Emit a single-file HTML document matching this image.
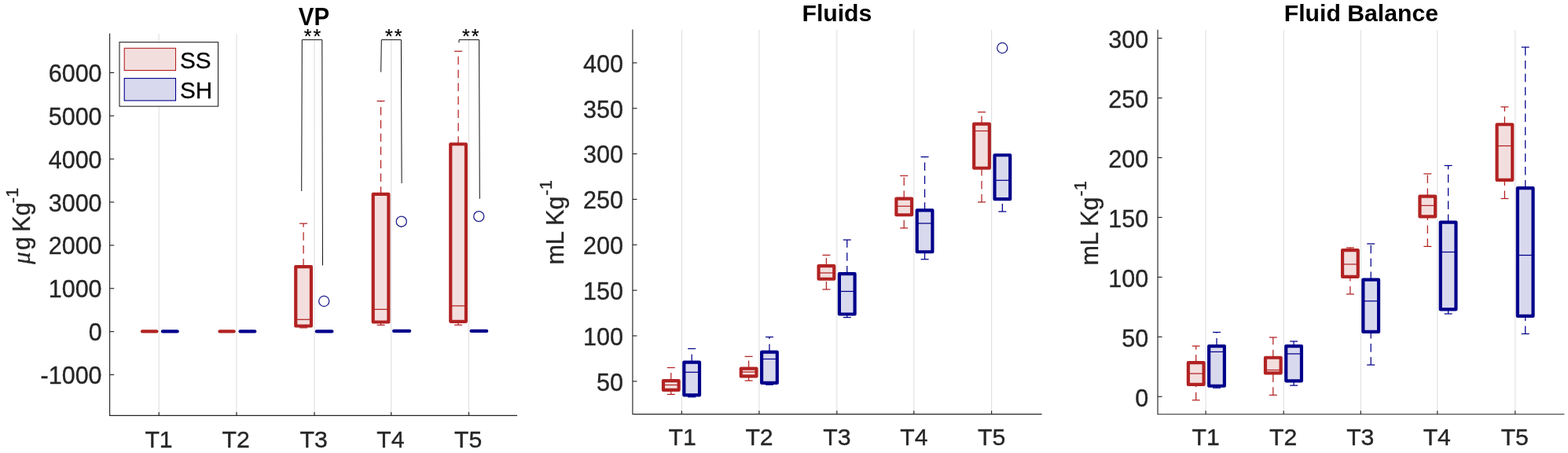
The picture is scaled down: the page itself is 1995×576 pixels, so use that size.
<!DOCTYPE html>
<html lang="en"><head><meta charset="utf-8"><title>VP, Fluids, Fluid Balance</title>
<style>html,body{margin:0;padding:0;background:#fff;}body{width:1995px;height:576px;overflow:hidden;}svg{display:block;font-family:"Liberation Sans",Arial,Helvetica,sans-serif;}</style>
</head><body>
<svg width="1995" height="576" viewBox="0 0 1995 576" role="img" aria-label="Box plots of VP, Fluids and Fluid Balance for groups SS and SH at T1 to T5">
<rect width="1995" height="576" fill="#fff"/>
<g id="panel-vp">
<line x1="202.20" y1="43" x2="202.20" y2="528.3" stroke="#dfdfdf" stroke-width="1.1"/>
<line x1="301.00" y1="43" x2="301.00" y2="528.3" stroke="#dfdfdf" stroke-width="1.1"/>
<line x1="400.00" y1="43" x2="400.00" y2="528.3" stroke="#dfdfdf" stroke-width="1.1"/>
<line x1="497.70" y1="43" x2="497.70" y2="528.3" stroke="#dfdfdf" stroke-width="1.1"/>
<line x1="596.50" y1="43" x2="596.50" y2="528.3" stroke="#dfdfdf" stroke-width="1.1"/>
<path d="M139.6 43 V528.3 H657.5" fill="none" stroke="#262626" stroke-width="1.15" stroke-linecap="square"/>
<line x1="202.20" y1="528.3" x2="202.20" y2="523.9" stroke="#262626" stroke-width="1.15"/>
<line x1="301.00" y1="528.3" x2="301.00" y2="523.9" stroke="#262626" stroke-width="1.15"/>
<line x1="400.00" y1="528.3" x2="400.00" y2="523.9" stroke="#262626" stroke-width="1.15"/>
<line x1="497.70" y1="528.3" x2="497.70" y2="523.9" stroke="#262626" stroke-width="1.15"/>
<line x1="596.50" y1="528.3" x2="596.50" y2="523.9" stroke="#262626" stroke-width="1.15"/>
<line x1="139.6" y1="92.40" x2="145.2" y2="92.40" stroke="#262626" stroke-width="1.15"/>
<text x="129.60" y="103.90" text-anchor="end" font-size="30.5" font-weight="normal" fill="#262626" stroke="#262626" stroke-width="0.35">6000</text>
<line x1="139.6" y1="147.27" x2="145.2" y2="147.27" stroke="#262626" stroke-width="1.15"/>
<text x="129.60" y="158.77" text-anchor="end" font-size="30.5" font-weight="normal" fill="#262626" stroke="#262626" stroke-width="0.35">5000</text>
<line x1="139.6" y1="202.14" x2="145.2" y2="202.14" stroke="#262626" stroke-width="1.15"/>
<text x="129.60" y="213.64" text-anchor="end" font-size="30.5" font-weight="normal" fill="#262626" stroke="#262626" stroke-width="0.35">4000</text>
<line x1="139.6" y1="257.01" x2="145.2" y2="257.01" stroke="#262626" stroke-width="1.15"/>
<text x="129.60" y="268.51" text-anchor="end" font-size="30.5" font-weight="normal" fill="#262626" stroke="#262626" stroke-width="0.35">3000</text>
<line x1="139.6" y1="311.88" x2="145.2" y2="311.88" stroke="#262626" stroke-width="1.15"/>
<text x="129.60" y="323.38" text-anchor="end" font-size="30.5" font-weight="normal" fill="#262626" stroke="#262626" stroke-width="0.35">2000</text>
<line x1="139.6" y1="366.75" x2="145.2" y2="366.75" stroke="#262626" stroke-width="1.15"/>
<text x="129.60" y="378.25" text-anchor="end" font-size="30.5" font-weight="normal" fill="#262626" stroke="#262626" stroke-width="0.35">1000</text>
<line x1="139.6" y1="421.62" x2="145.2" y2="421.62" stroke="#262626" stroke-width="1.15"/>
<text x="129.60" y="433.12" text-anchor="end" font-size="30.5" font-weight="normal" fill="#262626" stroke="#262626" stroke-width="0.35">0</text>
<line x1="139.6" y1="476.49" x2="145.2" y2="476.49" stroke="#262626" stroke-width="1.15"/>
<text x="129.60" y="487.99" text-anchor="end" font-size="30.5" font-weight="normal" fill="#262626" stroke="#262626" stroke-width="0.35">-1000</text>
<text x="202.00" y="568.60" text-anchor="middle" font-size="30.2" font-weight="normal" fill="#262626" stroke="#262626" stroke-width="0.35">T1</text>
<text x="300.20" y="568.60" text-anchor="middle" font-size="30.2" font-weight="normal" fill="#262626" stroke="#262626" stroke-width="0.35">T2</text>
<text x="399.20" y="568.60" text-anchor="middle" font-size="30.2" font-weight="normal" fill="#262626" stroke="#262626" stroke-width="0.35">T3</text>
<text x="496.90" y="568.60" text-anchor="middle" font-size="30.2" font-weight="normal" fill="#262626" stroke="#262626" stroke-width="0.35">T4</text>
<text x="595.70" y="568.60" text-anchor="middle" font-size="30.2" font-weight="normal" fill="#262626" stroke="#262626" stroke-width="0.35">T5</text>
<text transform="translate(399.40 32.20) scale(0.975 1.03)" text-anchor="middle" font-size="30.2" font-weight="bold" fill="#000">VP</text>
<text transform="translate(38.10 335.80) rotate(-90)" font-size="30.5" fill="#262626" stroke="#262626" stroke-width="0.35"><tspan font-family="Liberation Serif, serif" font-style="italic">μ</tspan><tspan dx="2.4">g</tspan> <tspan dx="-2">Kg</tspan><tspan dx="-1" dy="-15.5" font-size="21.96">-1</tspan></text>
<line x1="181.00" y1="421.40" x2="199.40" y2="421.40" stroke="#b22222" stroke-width="4.17" stroke-linecap="round"/>
<line x1="206.90" y1="421.40" x2="225.70" y2="421.40" stroke="#00008b" stroke-width="4.17" stroke-linecap="round"/>
<line x1="279.50" y1="421.40" x2="297.70" y2="421.40" stroke="#b22222" stroke-width="4.17" stroke-linecap="round"/>
<line x1="305.50" y1="421.40" x2="324.30" y2="421.40" stroke="#00008b" stroke-width="4.17" stroke-linecap="round"/>
<line x1="386.10" y1="339.08" x2="386.10" y2="284.20" stroke="#b22222" stroke-width="1.25" stroke-dasharray="10.5 6.4" stroke-dashoffset="0.4"/>
<line x1="381.10" y1="284.20" x2="391.10" y2="284.20" stroke="#b22222" stroke-width="1.25"/>
<line x1="386.10" y1="416.80" x2="386.10" y2="414.52" stroke="#b22222" stroke-width="1.25" stroke-dasharray="10.5 6.4" stroke-dashoffset="0.4"/>
<line x1="381.10" y1="416.80" x2="391.10" y2="416.80" stroke="#b22222" stroke-width="1.25"/>
<rect x="376.25" y="339.08" width="19.70" height="75.43" fill="#f3dede" stroke="#b22222" stroke-width="4.17" stroke-linejoin="round"/>
<line x1="376.25" y1="406.30" x2="395.95" y2="406.30" stroke="#b22222" stroke-width="1.25"/>
<line x1="402.80" y1="421.40" x2="422.40" y2="421.40" stroke="#00008b" stroke-width="4.17" stroke-linecap="round"/>
<line x1="484.55" y1="246.89" x2="484.55" y2="128.50" stroke="#b22222" stroke-width="1.25" stroke-dasharray="10.5 6.4" stroke-dashoffset="0.9"/>
<line x1="479.55" y1="128.50" x2="489.55" y2="128.50" stroke="#b22222" stroke-width="1.25"/>
<line x1="484.55" y1="413.30" x2="484.55" y2="409.52" stroke="#b22222" stroke-width="1.25" stroke-dasharray="10.5 6.4" stroke-dashoffset="0.4"/>
<line x1="479.55" y1="413.30" x2="489.55" y2="413.30" stroke="#b22222" stroke-width="1.25"/>
<rect x="474.70" y="246.89" width="19.70" height="162.63" fill="#f3dede" stroke="#b22222" stroke-width="4.17" stroke-linejoin="round"/>
<line x1="474.70" y1="393.40" x2="494.40" y2="393.40" stroke="#b22222" stroke-width="1.25"/>
<line x1="501.10" y1="420.90" x2="521.10" y2="420.90" stroke="#00008b" stroke-width="4.17" stroke-linecap="round"/>
<line x1="583.10" y1="183.28" x2="583.10" y2="65.20" stroke="#b22222" stroke-width="1.25" stroke-dasharray="10.5 6.4" stroke-dashoffset="0.4"/>
<line x1="578.10" y1="65.20" x2="588.10" y2="65.20" stroke="#b22222" stroke-width="1.25"/>
<line x1="583.10" y1="413.20" x2="583.10" y2="408.81" stroke="#b22222" stroke-width="1.25" stroke-dasharray="10.5 6.4" stroke-dashoffset="0.4"/>
<line x1="578.10" y1="413.20" x2="588.10" y2="413.20" stroke="#b22222" stroke-width="1.25"/>
<rect x="573.25" y="183.28" width="19.70" height="225.53" fill="#f3dede" stroke="#b22222" stroke-width="4.17" stroke-linejoin="round"/>
<line x1="573.25" y1="388.90" x2="592.95" y2="388.90" stroke="#b22222" stroke-width="1.25"/>
<line x1="599.60" y1="420.90" x2="619.20" y2="420.90" stroke="#00008b" stroke-width="4.17" stroke-linecap="round"/>
<circle cx="412.25" cy="383.00" r="6.55" fill="none" stroke="#23238f" stroke-width="1.3"/>
<circle cx="510.75" cy="281.70" r="6.55" fill="none" stroke="#23238f" stroke-width="1.3"/>
<circle cx="609.25" cy="275.10" r="6.55" fill="none" stroke="#23238f" stroke-width="1.3"/>
<path d="M383.70 243.00 L384.30 50.60 H409.80 L410.50 337.50" fill="none" stroke="#111" stroke-width="1.0"/>
<path d="M484.70 91.60 L485.30 50.60 H510.40 L511.10 233.00" fill="none" stroke="#111" stroke-width="1.0"/>
<path d="M584.00 54.30 L584.00 50.60 H609.60 L610.30 252.80" fill="none" stroke="#111" stroke-width="1.0"/>
<text x="391.50" y="54.50" text-anchor="middle" font-size="25" font-weight="normal" fill="#000" stroke="#000" stroke-width="0.2">*</text>
<text x="403.30" y="54.50" text-anchor="middle" font-size="25" font-weight="normal" fill="#000" stroke="#000" stroke-width="0.2">*</text>
<text x="494.80" y="54.50" text-anchor="middle" font-size="25" font-weight="normal" fill="#000" stroke="#000" stroke-width="0.2">*</text>
<text x="506.60" y="54.50" text-anchor="middle" font-size="25" font-weight="normal" fill="#000" stroke="#000" stroke-width="0.2">*</text>
<text x="592.85" y="54.50" text-anchor="middle" font-size="25" font-weight="normal" fill="#000" stroke="#000" stroke-width="0.2">*</text>
<text x="604.65" y="54.50" text-anchor="middle" font-size="25" font-weight="normal" fill="#000" stroke="#000" stroke-width="0.2">*</text>
<rect x="152.0" y="53.6" width="125.5" height="81.6" fill="#fff" stroke="#262626" stroke-width="1.1"/>
<rect x="158.2" y="61.3" width="65.3" height="28.2" fill="#f3dede" stroke="#b22222" stroke-width="1.1"/>
<rect x="158.2" y="99.6" width="65.3" height="28.3" fill="#d9d9ee" stroke="#00008b" stroke-width="1.1"/>
<text x="229.00" y="86.50" text-anchor="start" font-size="29.7" font-weight="normal" fill="#000" stroke="#000" stroke-width="0.3">SS</text>
<text x="229.00" y="124.80" text-anchor="start" font-size="29.7" font-weight="normal" fill="#000" stroke="#000" stroke-width="0.3">SH</text>
</g>
<g id="panel-fluids">
<line x1="867.40" y1="38" x2="867.40" y2="526.6" stroke="#dfdfdf" stroke-width="1.1"/>
<line x1="965.90" y1="38" x2="965.90" y2="526.6" stroke="#dfdfdf" stroke-width="1.1"/>
<line x1="1064.80" y1="38" x2="1064.80" y2="526.6" stroke="#dfdfdf" stroke-width="1.1"/>
<line x1="1162.80" y1="38" x2="1162.80" y2="526.6" stroke="#dfdfdf" stroke-width="1.1"/>
<line x1="1261.60" y1="38" x2="1261.60" y2="526.6" stroke="#dfdfdf" stroke-width="1.1"/>
<path d="M804.9 38 V526.6 H1325" fill="none" stroke="#262626" stroke-width="1.15" stroke-linecap="square"/>
<line x1="867.40" y1="526.6" x2="867.40" y2="522.2" stroke="#262626" stroke-width="1.15"/>
<line x1="965.90" y1="526.6" x2="965.90" y2="522.2" stroke="#262626" stroke-width="1.15"/>
<line x1="1064.80" y1="526.6" x2="1064.80" y2="522.2" stroke="#262626" stroke-width="1.15"/>
<line x1="1162.80" y1="526.6" x2="1162.80" y2="522.2" stroke="#262626" stroke-width="1.15"/>
<line x1="1261.60" y1="526.6" x2="1261.60" y2="522.2" stroke="#262626" stroke-width="1.15"/>
<line x1="804.9" y1="79.90" x2="810.5" y2="79.90" stroke="#262626" stroke-width="1.15"/>
<text x="793.00" y="91.70" text-anchor="end" font-size="30.5" font-weight="normal" fill="#262626" stroke="#262626" stroke-width="0.35">400</text>
<line x1="804.9" y1="137.75" x2="810.5" y2="137.75" stroke="#262626" stroke-width="1.15"/>
<text x="793.00" y="149.55" text-anchor="end" font-size="30.5" font-weight="normal" fill="#262626" stroke="#262626" stroke-width="0.35">350</text>
<line x1="804.9" y1="195.60" x2="810.5" y2="195.60" stroke="#262626" stroke-width="1.15"/>
<text x="793.00" y="207.40" text-anchor="end" font-size="30.5" font-weight="normal" fill="#262626" stroke="#262626" stroke-width="0.35">300</text>
<line x1="804.9" y1="253.45" x2="810.5" y2="253.45" stroke="#262626" stroke-width="1.15"/>
<text x="793.00" y="265.25" text-anchor="end" font-size="30.5" font-weight="normal" fill="#262626" stroke="#262626" stroke-width="0.35">250</text>
<line x1="804.9" y1="311.30" x2="810.5" y2="311.30" stroke="#262626" stroke-width="1.15"/>
<text x="793.00" y="323.10" text-anchor="end" font-size="30.5" font-weight="normal" fill="#262626" stroke="#262626" stroke-width="0.35">200</text>
<line x1="804.9" y1="369.15" x2="810.5" y2="369.15" stroke="#262626" stroke-width="1.15"/>
<text x="793.00" y="380.95" text-anchor="end" font-size="30.5" font-weight="normal" fill="#262626" stroke="#262626" stroke-width="0.35">150</text>
<line x1="804.9" y1="427.00" x2="810.5" y2="427.00" stroke="#262626" stroke-width="1.15"/>
<text x="793.00" y="438.80" text-anchor="end" font-size="30.5" font-weight="normal" fill="#262626" stroke="#262626" stroke-width="0.35">100</text>
<line x1="804.9" y1="484.85" x2="810.5" y2="484.85" stroke="#262626" stroke-width="1.15"/>
<text x="793.00" y="496.65" text-anchor="end" font-size="30.5" font-weight="normal" fill="#262626" stroke="#262626" stroke-width="0.35">50</text>
<text x="868.10" y="566.20" text-anchor="middle" font-size="30.2" font-weight="normal" fill="#262626" stroke="#262626" stroke-width="0.35">T1</text>
<text x="966.00" y="566.20" text-anchor="middle" font-size="30.2" font-weight="normal" fill="#262626" stroke="#262626" stroke-width="0.35">T2</text>
<text x="1064.90" y="566.20" text-anchor="middle" font-size="30.2" font-weight="normal" fill="#262626" stroke="#262626" stroke-width="0.35">T3</text>
<text x="1162.90" y="566.20" text-anchor="middle" font-size="30.2" font-weight="normal" fill="#262626" stroke="#262626" stroke-width="0.35">T4</text>
<text x="1261.70" y="566.20" text-anchor="middle" font-size="30.2" font-weight="normal" fill="#262626" stroke="#262626" stroke-width="0.35">T5</text>
<text transform="translate(1064.90 27.30) scale(1 1)" text-anchor="middle" font-size="30.2" font-weight="bold" fill="#000">Fluids</text>
<text transform="translate(717.30 336.50) rotate(-90)" font-size="30.5" fill="#262626" stroke="#262626" stroke-width="0.35">mL Kg<tspan dx="1" dy="-15.5" font-size="21.96">-1</tspan></text>
<line x1="853.80" y1="484.08" x2="853.80" y2="467.50" stroke="#b22222" stroke-width="1.25" stroke-dasharray="10.5 6.4" stroke-dashoffset="0.4"/>
<line x1="848.80" y1="467.50" x2="858.80" y2="467.50" stroke="#b22222" stroke-width="1.25"/>
<line x1="853.80" y1="501.50" x2="853.80" y2="495.92" stroke="#b22222" stroke-width="1.25" stroke-dasharray="10.5 6.4" stroke-dashoffset="0.4"/>
<line x1="848.80" y1="501.50" x2="858.80" y2="501.50" stroke="#b22222" stroke-width="1.25"/>
<rect x="843.95" y="484.08" width="19.70" height="11.83" fill="#f3dede" stroke="#b22222" stroke-width="4.17" stroke-linejoin="round"/>
<line x1="843.95" y1="489.50" x2="863.65" y2="489.50" stroke="#b22222" stroke-width="1.25"/>
<line x1="880.15" y1="460.58" x2="880.15" y2="443.40" stroke="#00008b" stroke-width="1.25" stroke-dasharray="10.5 6.4" stroke-dashoffset="0.4"/>
<line x1="875.15" y1="443.40" x2="885.15" y2="443.40" stroke="#00008b" stroke-width="1.25"/>
<line x1="880.15" y1="504.80" x2="880.15" y2="502.42" stroke="#00008b" stroke-width="1.25" stroke-dasharray="10.5 6.4" stroke-dashoffset="0.4"/>
<line x1="875.15" y1="504.80" x2="885.15" y2="504.80" stroke="#00008b" stroke-width="1.25"/>
<rect x="870.30" y="460.58" width="19.70" height="41.83" fill="#d9d9ee" stroke="#00008b" stroke-width="4.17" stroke-linejoin="round"/>
<line x1="870.30" y1="473.30" x2="890.00" y2="473.30" stroke="#00008b" stroke-width="1.25"/>
<line x1="952.60" y1="468.58" x2="952.60" y2="453.30" stroke="#b22222" stroke-width="1.25" stroke-dasharray="10.5 6.4" stroke-dashoffset="0.4"/>
<line x1="947.60" y1="453.30" x2="957.60" y2="453.30" stroke="#b22222" stroke-width="1.25"/>
<line x1="952.60" y1="484.00" x2="952.60" y2="478.42" stroke="#b22222" stroke-width="1.25" stroke-dasharray="10.5 6.4" stroke-dashoffset="0.4"/>
<line x1="947.60" y1="484.00" x2="957.60" y2="484.00" stroke="#b22222" stroke-width="1.25"/>
<rect x="942.75" y="468.58" width="19.70" height="9.83" fill="#f3dede" stroke="#b22222" stroke-width="4.17" stroke-linejoin="round"/>
<line x1="942.75" y1="473.00" x2="962.45" y2="473.00" stroke="#b22222" stroke-width="1.25"/>
<line x1="978.95" y1="447.58" x2="978.95" y2="428.50" stroke="#00008b" stroke-width="1.25" stroke-dasharray="10.5 6.4" stroke-dashoffset="0.4"/>
<line x1="973.95" y1="428.50" x2="983.95" y2="428.50" stroke="#00008b" stroke-width="1.25"/>
<line x1="978.95" y1="489.20" x2="978.95" y2="486.92" stroke="#00008b" stroke-width="1.25" stroke-dasharray="10.5 6.4" stroke-dashoffset="0.4"/>
<line x1="973.95" y1="489.20" x2="983.95" y2="489.20" stroke="#00008b" stroke-width="1.25"/>
<rect x="969.10" y="447.58" width="19.70" height="39.33" fill="#d9d9ee" stroke="#00008b" stroke-width="4.17" stroke-linejoin="round"/>
<line x1="969.10" y1="456.50" x2="988.80" y2="456.50" stroke="#00008b" stroke-width="1.25"/>
<line x1="1051.40" y1="338.08" x2="1051.40" y2="324.40" stroke="#b22222" stroke-width="1.25" stroke-dasharray="10.5 6.4" stroke-dashoffset="0.4"/>
<line x1="1046.40" y1="324.40" x2="1056.40" y2="324.40" stroke="#b22222" stroke-width="1.25"/>
<line x1="1051.40" y1="368.00" x2="1051.40" y2="354.72" stroke="#b22222" stroke-width="1.25" stroke-dasharray="10.5 6.4" stroke-dashoffset="0.4"/>
<line x1="1046.40" y1="368.00" x2="1056.40" y2="368.00" stroke="#b22222" stroke-width="1.25"/>
<rect x="1041.55" y="338.08" width="19.70" height="16.63" fill="#f3dede" stroke="#b22222" stroke-width="4.17" stroke-linejoin="round"/>
<line x1="1041.55" y1="347.00" x2="1061.25" y2="347.00" stroke="#b22222" stroke-width="1.25"/>
<line x1="1077.75" y1="348.19" x2="1077.75" y2="305.00" stroke="#00008b" stroke-width="1.25" stroke-dasharray="10.5 6.4" stroke-dashoffset="0.4"/>
<line x1="1072.75" y1="305.00" x2="1082.75" y2="305.00" stroke="#00008b" stroke-width="1.25"/>
<line x1="1077.75" y1="403.60" x2="1077.75" y2="399.52" stroke="#00008b" stroke-width="1.25" stroke-dasharray="10.5 6.4" stroke-dashoffset="0.4"/>
<line x1="1072.75" y1="403.60" x2="1082.75" y2="403.60" stroke="#00008b" stroke-width="1.25"/>
<rect x="1067.90" y="348.19" width="19.70" height="51.33" fill="#d9d9ee" stroke="#00008b" stroke-width="4.17" stroke-linejoin="round"/>
<line x1="1067.90" y1="370.50" x2="1087.60" y2="370.50" stroke="#00008b" stroke-width="1.25"/>
<line x1="1150.20" y1="252.59" x2="1150.20" y2="223.50" stroke="#b22222" stroke-width="1.25" stroke-dasharray="10.5 6.4" stroke-dashoffset="0.4"/>
<line x1="1145.20" y1="223.50" x2="1155.20" y2="223.50" stroke="#b22222" stroke-width="1.25"/>
<line x1="1150.20" y1="290.00" x2="1150.20" y2="273.22" stroke="#b22222" stroke-width="1.25" stroke-dasharray="10.5 6.4" stroke-dashoffset="0.4"/>
<line x1="1145.20" y1="290.00" x2="1155.20" y2="290.00" stroke="#b22222" stroke-width="1.25"/>
<rect x="1140.35" y="252.59" width="19.70" height="20.63" fill="#f3dede" stroke="#b22222" stroke-width="4.17" stroke-linejoin="round"/>
<line x1="1140.35" y1="262.20" x2="1160.05" y2="262.20" stroke="#b22222" stroke-width="1.25"/>
<line x1="1176.55" y1="267.38" x2="1176.55" y2="199.50" stroke="#00008b" stroke-width="1.25" stroke-dasharray="10.5 6.4" stroke-dashoffset="0.4"/>
<line x1="1171.55" y1="199.50" x2="1181.55" y2="199.50" stroke="#00008b" stroke-width="1.25"/>
<line x1="1176.55" y1="329.70" x2="1176.55" y2="320.22" stroke="#00008b" stroke-width="1.25" stroke-dasharray="10.5 6.4" stroke-dashoffset="0.4"/>
<line x1="1171.55" y1="329.70" x2="1181.55" y2="329.70" stroke="#00008b" stroke-width="1.25"/>
<rect x="1166.70" y="267.38" width="19.70" height="52.83" fill="#d9d9ee" stroke="#00008b" stroke-width="4.17" stroke-linejoin="round"/>
<line x1="1166.70" y1="284.00" x2="1186.40" y2="284.00" stroke="#00008b" stroke-width="1.25"/>
<line x1="1249.00" y1="157.59" x2="1249.00" y2="142.50" stroke="#b22222" stroke-width="1.25" stroke-dasharray="10.5 6.4" stroke-dashoffset="0.4"/>
<line x1="1244.00" y1="142.50" x2="1254.00" y2="142.50" stroke="#b22222" stroke-width="1.25"/>
<line x1="1249.00" y1="257.00" x2="1249.00" y2="213.72" stroke="#b22222" stroke-width="1.25" stroke-dasharray="10.5 6.4" stroke-dashoffset="0.4"/>
<line x1="1244.00" y1="257.00" x2="1254.00" y2="257.00" stroke="#b22222" stroke-width="1.25"/>
<rect x="1239.15" y="157.59" width="19.70" height="56.13" fill="#f3dede" stroke="#b22222" stroke-width="4.17" stroke-linejoin="round"/>
<line x1="1239.15" y1="166.50" x2="1258.85" y2="166.50" stroke="#b22222" stroke-width="1.25"/>
<line x1="1275.35" y1="269.00" x2="1275.35" y2="253.22" stroke="#00008b" stroke-width="1.25" stroke-dasharray="10.5 6.4" stroke-dashoffset="0.4"/>
<line x1="1270.35" y1="269.00" x2="1280.35" y2="269.00" stroke="#00008b" stroke-width="1.25"/>
<rect x="1265.50" y="197.28" width="19.70" height="55.93" fill="#d9d9ee" stroke="#00008b" stroke-width="4.17" stroke-linejoin="round"/>
<line x1="1265.50" y1="229.30" x2="1285.20" y2="229.30" stroke="#00008b" stroke-width="1.25"/>
<circle cx="1275.25" cy="61.00" r="6.55" fill="none" stroke="#23238f" stroke-width="1.3"/>
</g>
<g id="panel-balance">
<line x1="1534.10" y1="38.3" x2="1534.10" y2="526.7" stroke="#dfdfdf" stroke-width="1.1"/>
<line x1="1633.20" y1="38.3" x2="1633.20" y2="526.7" stroke="#dfdfdf" stroke-width="1.1"/>
<line x1="1731.30" y1="38.3" x2="1731.30" y2="526.7" stroke="#dfdfdf" stroke-width="1.1"/>
<line x1="1828.80" y1="38.3" x2="1828.80" y2="526.7" stroke="#dfdfdf" stroke-width="1.1"/>
<line x1="1927.80" y1="38.3" x2="1927.80" y2="526.7" stroke="#dfdfdf" stroke-width="1.1"/>
<path d="M1473.0 38.3 V526.7 H1989.8" fill="none" stroke="#262626" stroke-width="1.15" stroke-linecap="square"/>
<line x1="1534.10" y1="526.7" x2="1534.10" y2="522.3000000000001" stroke="#262626" stroke-width="1.15"/>
<line x1="1633.20" y1="526.7" x2="1633.20" y2="522.3000000000001" stroke="#262626" stroke-width="1.15"/>
<line x1="1731.30" y1="526.7" x2="1731.30" y2="522.3000000000001" stroke="#262626" stroke-width="1.15"/>
<line x1="1828.80" y1="526.7" x2="1828.80" y2="522.3000000000001" stroke="#262626" stroke-width="1.15"/>
<line x1="1927.80" y1="526.7" x2="1927.80" y2="522.3000000000001" stroke="#262626" stroke-width="1.15"/>
<line x1="1473.0" y1="48.60" x2="1478.6" y2="48.60" stroke="#262626" stroke-width="1.15"/>
<text x="1461.20" y="61.00" text-anchor="end" font-size="30.5" font-weight="normal" fill="#262626" stroke="#262626" stroke-width="0.35">300</text>
<line x1="1473.0" y1="124.55" x2="1478.6" y2="124.55" stroke="#262626" stroke-width="1.15"/>
<text x="1461.20" y="136.95" text-anchor="end" font-size="30.5" font-weight="normal" fill="#262626" stroke="#262626" stroke-width="0.35">250</text>
<line x1="1473.0" y1="200.50" x2="1478.6" y2="200.50" stroke="#262626" stroke-width="1.15"/>
<text x="1461.20" y="212.90" text-anchor="end" font-size="30.5" font-weight="normal" fill="#262626" stroke="#262626" stroke-width="0.35">200</text>
<line x1="1473.0" y1="276.45" x2="1478.6" y2="276.45" stroke="#262626" stroke-width="1.15"/>
<text x="1461.20" y="288.85" text-anchor="end" font-size="30.5" font-weight="normal" fill="#262626" stroke="#262626" stroke-width="0.35">150</text>
<line x1="1473.0" y1="352.40" x2="1478.6" y2="352.40" stroke="#262626" stroke-width="1.15"/>
<text x="1461.20" y="364.80" text-anchor="end" font-size="30.5" font-weight="normal" fill="#262626" stroke="#262626" stroke-width="0.35">100</text>
<line x1="1473.0" y1="428.35" x2="1478.6" y2="428.35" stroke="#262626" stroke-width="1.15"/>
<text x="1461.20" y="440.75" text-anchor="end" font-size="30.5" font-weight="normal" fill="#262626" stroke="#262626" stroke-width="0.35">50</text>
<line x1="1473.0" y1="504.30" x2="1478.6" y2="504.30" stroke="#262626" stroke-width="1.15"/>
<text x="1461.20" y="516.70" text-anchor="end" font-size="30.5" font-weight="normal" fill="#262626" stroke="#262626" stroke-width="0.35">0</text>
<text x="1534.20" y="566.30" text-anchor="middle" font-size="30.2" font-weight="normal" fill="#262626" stroke="#262626" stroke-width="0.35">T1</text>
<text x="1632.70" y="566.30" text-anchor="middle" font-size="30.2" font-weight="normal" fill="#262626" stroke="#262626" stroke-width="0.35">T2</text>
<text x="1730.80" y="566.30" text-anchor="middle" font-size="30.2" font-weight="normal" fill="#262626" stroke="#262626" stroke-width="0.35">T3</text>
<text x="1828.30" y="566.30" text-anchor="middle" font-size="30.2" font-weight="normal" fill="#262626" stroke="#262626" stroke-width="0.35">T4</text>
<text x="1927.30" y="566.30" text-anchor="middle" font-size="30.2" font-weight="normal" fill="#262626" stroke="#262626" stroke-width="0.35">T5</text>
<text transform="translate(1731.90 27.30) scale(1 1)" text-anchor="middle" font-size="30.2" font-weight="bold" fill="#000">Fluid Balance</text>
<text transform="translate(1397.00 337.50) rotate(-90)" font-size="30.5" fill="#262626" stroke="#262626" stroke-width="0.35">mL Kg<tspan dx="1" dy="-15.5" font-size="21.96">-1</tspan></text>
<line x1="1521.70" y1="461.08" x2="1521.70" y2="440.00" stroke="#b22222" stroke-width="1.25" stroke-dasharray="10.5 6.4" stroke-dashoffset="0.4"/>
<line x1="1516.70" y1="440.00" x2="1526.70" y2="440.00" stroke="#b22222" stroke-width="1.25"/>
<line x1="1521.70" y1="508.80" x2="1521.70" y2="488.92" stroke="#b22222" stroke-width="1.25" stroke-dasharray="10.5 6.4" stroke-dashoffset="0.4"/>
<line x1="1516.70" y1="508.80" x2="1526.70" y2="508.80" stroke="#b22222" stroke-width="1.25"/>
<rect x="1511.85" y="461.08" width="19.70" height="27.83" fill="#f3dede" stroke="#b22222" stroke-width="4.17" stroke-linejoin="round"/>
<line x1="1511.85" y1="475.00" x2="1531.55" y2="475.00" stroke="#b22222" stroke-width="1.25"/>
<line x1="1548.00" y1="440.08" x2="1548.00" y2="422.50" stroke="#00008b" stroke-width="1.25" stroke-dasharray="10.5 6.4" stroke-dashoffset="0.4"/>
<line x1="1543.00" y1="422.50" x2="1553.00" y2="422.50" stroke="#00008b" stroke-width="1.25"/>
<line x1="1548.00" y1="493.20" x2="1548.00" y2="490.72" stroke="#00008b" stroke-width="1.25" stroke-dasharray="10.5 6.4" stroke-dashoffset="0.4"/>
<line x1="1543.00" y1="493.20" x2="1553.00" y2="493.20" stroke="#00008b" stroke-width="1.25"/>
<rect x="1538.15" y="440.08" width="19.70" height="50.63" fill="#d9d9ee" stroke="#00008b" stroke-width="4.17" stroke-linejoin="round"/>
<line x1="1538.15" y1="447.40" x2="1557.85" y2="447.40" stroke="#00008b" stroke-width="1.25"/>
<line x1="1619.80" y1="454.78" x2="1619.80" y2="429.00" stroke="#b22222" stroke-width="1.25" stroke-dasharray="10.5 6.4" stroke-dashoffset="0.4"/>
<line x1="1614.80" y1="429.00" x2="1624.80" y2="429.00" stroke="#b22222" stroke-width="1.25"/>
<line x1="1619.80" y1="502.40" x2="1619.80" y2="474.42" stroke="#b22222" stroke-width="1.25" stroke-dasharray="10.5 6.4" stroke-dashoffset="0.4"/>
<line x1="1614.80" y1="502.40" x2="1624.80" y2="502.40" stroke="#b22222" stroke-width="1.25"/>
<rect x="1609.95" y="454.78" width="19.70" height="19.63" fill="#f3dede" stroke="#b22222" stroke-width="4.17" stroke-linejoin="round"/>
<line x1="1609.95" y1="470.50" x2="1629.65" y2="470.50" stroke="#b22222" stroke-width="1.25"/>
<line x1="1646.10" y1="440.08" x2="1646.10" y2="434.00" stroke="#00008b" stroke-width="1.25" stroke-dasharray="10.5 6.4" stroke-dashoffset="0.4"/>
<line x1="1641.10" y1="434.00" x2="1651.10" y2="434.00" stroke="#00008b" stroke-width="1.25"/>
<line x1="1646.10" y1="490.10" x2="1646.10" y2="484.31" stroke="#00008b" stroke-width="1.25" stroke-dasharray="10.5 6.4" stroke-dashoffset="0.4"/>
<line x1="1641.10" y1="490.10" x2="1651.10" y2="490.10" stroke="#00008b" stroke-width="1.25"/>
<rect x="1636.25" y="440.08" width="19.70" height="44.23" fill="#d9d9ee" stroke="#00008b" stroke-width="4.17" stroke-linejoin="round"/>
<line x1="1636.25" y1="449.90" x2="1655.95" y2="449.90" stroke="#00008b" stroke-width="1.25"/>
<line x1="1717.90" y1="318.08" x2="1717.90" y2="314.90" stroke="#b22222" stroke-width="1.25" stroke-dasharray="10.5 6.4" stroke-dashoffset="0.4"/>
<line x1="1712.90" y1="314.90" x2="1722.90" y2="314.90" stroke="#b22222" stroke-width="1.25"/>
<line x1="1717.90" y1="374.00" x2="1717.90" y2="351.92" stroke="#b22222" stroke-width="1.25" stroke-dasharray="10.5 6.4" stroke-dashoffset="0.4"/>
<line x1="1712.90" y1="374.00" x2="1722.90" y2="374.00" stroke="#b22222" stroke-width="1.25"/>
<rect x="1708.05" y="318.08" width="19.70" height="33.83" fill="#f3dede" stroke="#b22222" stroke-width="4.17" stroke-linejoin="round"/>
<line x1="1708.05" y1="336.00" x2="1727.75" y2="336.00" stroke="#b22222" stroke-width="1.25"/>
<line x1="1744.20" y1="355.58" x2="1744.20" y2="310.00" stroke="#00008b" stroke-width="1.25" stroke-dasharray="10.5 6.4" stroke-dashoffset="0.4"/>
<line x1="1739.20" y1="310.00" x2="1749.20" y2="310.00" stroke="#00008b" stroke-width="1.25"/>
<line x1="1744.20" y1="464.00" x2="1744.20" y2="421.92" stroke="#00008b" stroke-width="1.25" stroke-dasharray="10.5 6.4" stroke-dashoffset="0.4"/>
<line x1="1739.20" y1="464.00" x2="1749.20" y2="464.00" stroke="#00008b" stroke-width="1.25"/>
<rect x="1734.35" y="355.58" width="19.70" height="66.33" fill="#d9d9ee" stroke="#00008b" stroke-width="4.17" stroke-linejoin="round"/>
<line x1="1734.35" y1="382.80" x2="1754.05" y2="382.80" stroke="#00008b" stroke-width="1.25"/>
<line x1="1816.30" y1="249.59" x2="1816.30" y2="221.00" stroke="#b22222" stroke-width="1.25" stroke-dasharray="10.5 6.4" stroke-dashoffset="0.4"/>
<line x1="1811.30" y1="221.00" x2="1821.30" y2="221.00" stroke="#b22222" stroke-width="1.25"/>
<line x1="1816.30" y1="313.40" x2="1816.30" y2="275.42" stroke="#b22222" stroke-width="1.25" stroke-dasharray="10.5 6.4" stroke-dashoffset="0.4"/>
<line x1="1811.30" y1="313.40" x2="1821.30" y2="313.40" stroke="#b22222" stroke-width="1.25"/>
<rect x="1806.45" y="249.59" width="19.70" height="25.83" fill="#f3dede" stroke="#b22222" stroke-width="4.17" stroke-linejoin="round"/>
<line x1="1806.45" y1="261.40" x2="1826.15" y2="261.40" stroke="#b22222" stroke-width="1.25"/>
<line x1="1842.60" y1="282.58" x2="1842.60" y2="210.50" stroke="#00008b" stroke-width="1.25" stroke-dasharray="10.5 6.4" stroke-dashoffset="0.4"/>
<line x1="1837.60" y1="210.50" x2="1847.60" y2="210.50" stroke="#00008b" stroke-width="1.25"/>
<line x1="1842.60" y1="399.00" x2="1842.60" y2="393.42" stroke="#00008b" stroke-width="1.25" stroke-dasharray="10.5 6.4" stroke-dashoffset="0.4"/>
<line x1="1837.60" y1="399.00" x2="1847.60" y2="399.00" stroke="#00008b" stroke-width="1.25"/>
<rect x="1832.75" y="282.58" width="19.70" height="110.83" fill="#d9d9ee" stroke="#00008b" stroke-width="4.17" stroke-linejoin="round"/>
<line x1="1832.75" y1="320.50" x2="1852.45" y2="320.50" stroke="#00008b" stroke-width="1.25"/>
<line x1="1914.40" y1="158.28" x2="1914.40" y2="135.90" stroke="#b22222" stroke-width="1.25" stroke-dasharray="10.5 6.4" stroke-dashoffset="0.4"/>
<line x1="1909.40" y1="135.90" x2="1919.40" y2="135.90" stroke="#b22222" stroke-width="1.25"/>
<line x1="1914.40" y1="252.50" x2="1914.40" y2="228.91" stroke="#b22222" stroke-width="1.25" stroke-dasharray="10.5 6.4" stroke-dashoffset="0.4"/>
<line x1="1909.40" y1="252.50" x2="1919.40" y2="252.50" stroke="#b22222" stroke-width="1.25"/>
<rect x="1904.55" y="158.28" width="19.70" height="70.63" fill="#f3dede" stroke="#b22222" stroke-width="4.17" stroke-linejoin="round"/>
<line x1="1904.55" y1="185.50" x2="1924.25" y2="185.50" stroke="#b22222" stroke-width="1.25"/>
<line x1="1940.70" y1="239.09" x2="1940.70" y2="60.00" stroke="#00008b" stroke-width="1.25" stroke-dasharray="10.5 6.4" stroke-dashoffset="0.4"/>
<line x1="1935.70" y1="60.00" x2="1945.70" y2="60.00" stroke="#00008b" stroke-width="1.25"/>
<line x1="1940.70" y1="424.50" x2="1940.70" y2="401.92" stroke="#00008b" stroke-width="1.25" stroke-dasharray="10.5 6.4" stroke-dashoffset="0.4"/>
<line x1="1935.70" y1="424.50" x2="1945.70" y2="424.50" stroke="#00008b" stroke-width="1.25"/>
<rect x="1930.85" y="239.09" width="19.70" height="162.83" fill="#d9d9ee" stroke="#00008b" stroke-width="4.17" stroke-linejoin="round"/>
<line x1="1930.85" y1="324.50" x2="1950.55" y2="324.50" stroke="#00008b" stroke-width="1.25"/>
</g>
</svg>
</body></html>
